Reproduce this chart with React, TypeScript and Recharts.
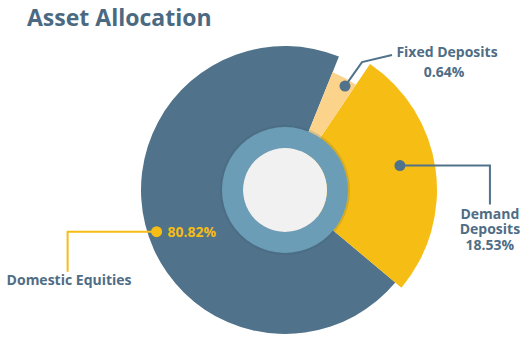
import React from 'react';
import { PieChart, Pie, Cell } from 'recharts';

// Categories, printed percentages and the arc each slice occupies in the picture (degrees)
const categories = ['Fixed Deposits', 'Demand Deposits', 'Domestic Equities'];
const percentLabels = ['0.64%', '18.53%', '80.82%'];
const drawnArc = [12, 96, 252];

const COLORS = ['#fbd38b', '#f6bd14', '#50728a'];
const RADII = [127, 152, 144];
const TEXT = '#4f6d85';
const FONT = '"Open Sans", sans-serif';
const RAD = Math.PI / 180;

const data = categories.map((name, i) => ({ name, arc: drawnArc[i], pct: percentLabels[i] }));

const W = 528;
const H = 355;
const CX = 285;
const CY = 190;
const START = 68; // 22deg clockwise from 12 o'clock
const END = START - 360;

const polar = (cx: number, cy: number, r: number, a: number) => ({
  x: cx + r * Math.cos(-a * RAD),
  y: cy + r * Math.sin(-a * RAD),
});

const makeLabel = (target: number) => (props: any) => {
  const { cx, cy, midAngle, index } = props;
  if (index !== target) return null;
  const ts = { fontFamily: FONT, fontWeight: 700, fontSize: 14 } as const;
  if (target === 2) {
    const d = polar(cx, cy, 135, midAngle + 4);
    return (
      <g>
        <polyline points={`${d.x},${d.y} ${d.x - 89},${d.y} ${d.x - 89},${d.y + 40}`} fill="none" stroke="#f6bd14" strokeWidth={2} />
        <circle cx={d.x} cy={d.y} r={5.5} fill="#f6bd14" />
        <text x={d.x + 11} y={d.y + 5} fill="#f6bd14" {...ts}>{data[2].pct}</text>
        <text x={d.x - 150} y={d.y + 53} fill={TEXT} {...ts}>{data[2].name}</text>
      </g>
    );
  }
  if (target === 0) {
    const d = polar(cx, cy, 120, midAngle - 2);
    return (
      <g>
        <polyline points={`${d.x},${d.y} ${d.x + 17},${d.y - 24} ${d.x + 47},${d.y - 31}`} fill="none" stroke="#50728a" strokeWidth={2} />
        <circle cx={d.x} cy={d.y} r={5.5} fill="#50728a" />
        <text x={d.x + 102} y={d.y - 29} textAnchor="middle" fill={TEXT} {...ts}>{data[0].name}</text>
        <text x={d.x + 99} y={d.y - 9} textAnchor="middle" fill={TEXT} {...ts}>{data[0].pct}</text>
      </g>
    );
  }
  const d = polar(cx, cy, 117.5, midAngle + 4);
  return (
    <g>
      <polyline points={`${d.x},${d.y} ${d.x + 90},${d.y} ${d.x + 90},${d.y + 39}`} fill="none" stroke="#50728a" strokeWidth={2} />
      <circle cx={d.x} cy={d.y} r={5.5} fill="#50728a" />
      <text textAnchor="middle" fill={TEXT} {...ts}>
        <tspan x={d.x + 90} y={d.y + 53}>Demand</tspan>
        <tspan x={d.x + 90} y={d.y + 68}>Deposits</tspan>
        <tspan x={d.x + 90} y={d.y + 84}>{data[1].pct}</tspan>
      </text>
    </g>
  );
};

const ring = [{ v: 1 }];

export default function App() {
  return (
    <div style={{ position: 'absolute', left: 0, top: 0, width: W, height: H, background: '#fff' }}>
      <div
        style={{
          position: 'absolute',
          left: 27,
          top: 1,
          fontFamily: FONT,
          fontWeight: 700,
          fontSize: 23,
          color: '#4b6a82',
          whiteSpace: 'nowrap',
        }}
      >
        Asset Allocation
      </div>
      <PieChart width={W} height={H} margin={{ top: 0, right: 0, bottom: 0, left: 0 }}>
        {[2, 1, 0].map((t) => (
          <Pie
            key={t}
            data={data}
            dataKey="arc"
            nameKey="name"
            cx={CX}
            cy={CY}
            innerRadius={0}
            outerRadius={RADII[t]}
            startAngle={START}
            endAngle={END}
            stroke="none"
            isAnimationActive={false}
            label={makeLabel(t)}
            labelLine={false}
          >
            {data.map((_, i) => (
              <Cell key={i} fill={i === t ? COLORS[i] : 'none'} />
            ))}
          </Pie>
        ))}
        <Pie data={ring} dataKey="v" cx={CX} cy={CY} innerRadius={62} outerRadius={65} fill="#3e5c70" fillOpacity={0.18} stroke="none" isAnimationActive={false} />
        <Pie data={ring} dataKey="v" cx={CX} cy={CY} innerRadius={42} outerRadius={63} fill="#6b9db7" stroke="none" isAnimationActive={false} />
        <Pie data={ring} dataKey="v" cx={CX} cy={CY} innerRadius={0} outerRadius={42} fill="#f1f1f2" stroke="none" isAnimationActive={false} />
      </PieChart>
    </div>
  );
}
